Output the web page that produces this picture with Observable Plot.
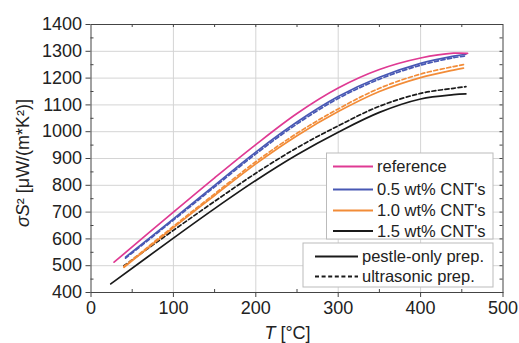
<!DOCTYPE html>
<html>
<head>
<meta charset="utf-8">
<script src="https://cdn.jsdelivr.net/npm/d3@7"></script>
<script src="https://cdn.jsdelivr.net/npm/@observablehq/plot@0.6"></script>
<style>
  html, body { margin: 0; padding: 0; background: #fff; }
  svg { display: block; }
</style>
</head>
<body>
<div id="chart"></div>
<script>
// ---- data ----
const T_ref = [28, 100, 150, 200, 250, 300, 350, 400, 440, 457];
const ref   = [513, 700, 828, 952, 1068, 1163, 1232, 1275, 1293, 1292];

const T_05  = [42, 100, 150, 200, 250, 300, 350, 400, 440, 455];
const c05_pestle = [532, 675, 800, 924, 1036, 1131, 1203, 1255, 1282, 1289];
const c05_ultra  = [528, 670, 794, 917, 1029, 1124, 1196, 1248, 1276, 1283];

const T_10  = [40, 100, 150, 200, 250, 300, 350, 400, 440, 452];
const c10_pestle = [494, 642, 762, 880, 985, 1075, 1150, 1202, 1230, 1237];
const c10_ultra  = [497, 647, 768, 888, 994, 1085, 1162, 1215, 1243, 1250];

const T_15p = [24, 100, 150, 200, 250, 300, 350, 400, 440, 455];
const c15_pestle = [432, 603, 713, 818, 914, 998, 1072, 1122, 1138, 1141];
const T_15u = [40, 100, 150, 200, 250, 300, 350, 400, 440, 455];
const c15_ultra  = [500, 632, 740, 845, 940, 1022, 1095, 1143, 1162, 1168];

const xTicks = [0, 100, 200, 300, 400, 500];
const yTicks = [400, 500, 600, 700, 800, 900, 1000, 1100, 1200, 1300, 1400];
const xMinor = [50, 150, 250, 350, 450];
const yMinor = [450, 550, 650, 750, 850, 950, 1050, 1150, 1250, 1350];

const seriesNames = ["reference", "0.5 wt% CNT's", "1.0 wt% CNT's", "1.5 wt% CNT's"];
const prepNames = ["pestle-only prep.", "ultrasonic prep."];
const colors = {pink: "#df3a93", blue: "#4858b4", orange: "#f28c38", black: "#1a1a1a"};

const toRows = (T, v) => T.map((t, i) => ({T: t, v: v[i]}));

const W = 519, H = 343;
const mL = 90.5, mR = 16.5, mT = 24, mB = 51;
const pw = W - mL - mR, ph = H - mT - mB;

const lineOpts = (stroke, dashed) => ({
  x: "T", y: "v", stroke, strokeWidth: 1.7, curve: "catmull-rom",
  strokeDasharray: dashed ? "4,2.6" : null
});

const chart = Plot.plot({
  width: W, height: H,
  marginLeft: mL, marginRight: mR, marginTop: mT, marginBottom: mB,
  style: {fontFamily: "'Liberation Sans', Arial, sans-serif", fontSize: "18px", color: "#222", background: "#fff"},
  x: {domain: [0, 500]},
  y: {domain: [400, 1400]},
  marks: [
    Plot.gridX([100, 200, 300, 400], {stroke: "#d4d4d4", strokeOpacity: 1, strokeWidth: 1}),
    Plot.gridY([500, 600, 700, 800, 900, 1000, 1100, 1200, 1300], {stroke: "#d4d4d4", strokeOpacity: 1, strokeWidth: 1}),
    Plot.line(toRows(T_15p, c15_pestle), lineOpts(colors.black, false)),
    Plot.line(toRows(T_15u, c15_ultra), lineOpts(colors.black, true)),
    Plot.line(toRows(T_10, c10_pestle), lineOpts(colors.orange, false)),
    Plot.line(toRows(T_10, c10_ultra), lineOpts(colors.orange, true)),
    Plot.line(toRows(T_05, c05_pestle), lineOpts(colors.blue, false)),
    Plot.line(toRows(T_05, c05_ultra), lineOpts(colors.blue, true)),
    Plot.line(toRows(T_ref, ref), lineOpts(colors.pink, false)),
    Plot.frame({stroke: "#444", strokeWidth: 1}),
    Plot.axisX({ticks: xTicks, tickFormat: d => String(d), tickSize: 5, tickPadding: 4, label: null, stroke: "#444", fontSize: 18}),
    Plot.axisY({ticks: yTicks, tickFormat: d => String(d), tickSize: 5, tickPadding: 4, label: null, stroke: "#444", fontSize: 18}),
    // inward minor ticks, bottom and left
    Plot.ruleX(xMinor, {stroke: "#444", insetTop: ph - 3}),
    Plot.ruleY(yMinor, {stroke: "#444", insetRight: pw - 3}),
    // inward ticks top and right
    Plot.ruleX(xMinor.concat([100, 200, 300, 400]), {stroke: "#444", insetBottom: ph - 3}),
    Plot.ruleY(yMinor.concat([500, 600, 700, 800, 900, 1000, 1100, 1200, 1300]), {stroke: "#444", insetLeft: pw - 3})
  ]
});

document.getElementById("chart").appendChild(chart);

// ---- axis titles and legend ----
const svg = d3.select(chart);
const font = "'Liberation Sans', Arial, sans-serif";

const yl = svg.append("text")
  .attr("transform", `translate(29,163) rotate(-90)`)
  .attr("text-anchor", "middle")
  .attr("font-family", font).attr("font-size", 18).attr("fill", "#222");
yl.append("tspan").attr("font-style", "italic").text("σS");
yl.append("tspan").text("² [μW/(m*K²)]");

const xl = svg.append("text")
  .attr("x", mL + pw * 0.5 - 9).attr("y", 339)
  .attr("text-anchor", "middle")
  .attr("font-family", font).attr("font-size", 18).attr("fill", "#222");
xl.append("tspan").attr("font-style", "italic").text("T");
xl.append("tspan").text(" [°C]");

const lg = svg.append("g").attr("font-family", font).attr("font-size", 16.5)
  .attr("fill", "#222").attr("text-anchor", "start");
lg.append("rect").attr("x", 326.5).attr("y", 153).attr("width", 166.5).attr("height", 86)
  .attr("fill", "#fff").attr("stroke", "#bbb");
lg.append("rect").attr("x", 303).attr("y", 243).attr("width", 190).attr("height", 44)
  .attr("fill", "#fff").attr("stroke", "#bbb");

const rowsY = [166.5, 189.5, 210.5, 231];
const rowColors = [colors.pink, colors.blue, colors.orange, colors.black];
seriesNames.forEach((name, i) => {
  lg.append("line").attr("x1", 333).attr("x2", 373).attr("y1", rowsY[i]).attr("y2", rowsY[i])
    .attr("stroke", rowColors[i]).attr("stroke-width", 1.8);
  lg.append("text").attr("x", 377).attr("y", rowsY[i]).attr("dy", "0.36em")
    .attr("text-anchor", "start").text(name);
});
const prepY = [256.5, 276.5];
prepNames.forEach((name, i) => {
  lg.append("line").attr("x1", 315).attr("x2", 358).attr("y1", prepY[i]).attr("y2", prepY[i])
    .attr("stroke", "#1a1a1a").attr("stroke-width", 1.8)
    .attr("stroke-dasharray", i === 1 ? "4,2.6" : null);
  lg.append("text").attr("x", 362).attr("y", prepY[i]).attr("dy", "0.36em")
    .attr("text-anchor", "start").text(name);
});
</script>
</body>
</html>
